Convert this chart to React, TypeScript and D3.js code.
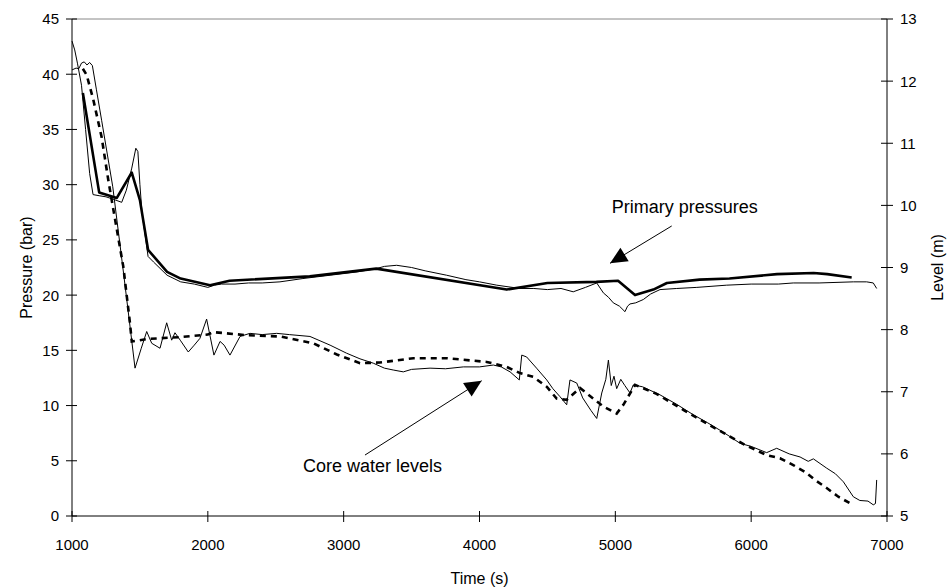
import React from "react";
import * as d3 from "d3";

// ---- Data ----
const xTicks = [1000, 2000, 3000, 4000, 5000, 6000, 7000];
const pressureTicks = [0, 5, 10, 15, 20, 25, 30, 35, 40, 45];
const levelTicks = [5, 6, 7, 8, 9, 10, 11, 12, 13];

// Calculated primary pressure (bar) – thick line
const pressureCalc: [number, number][] = [
  [1080, 38.3], [1200, 29.3], [1330, 28.8], [1440, 31.1], [1500, 28.6], [1560, 24.1],
  [1700, 22.1], [1800, 21.5], [2016, 20.9], [2160, 21.3], [2750, 21.7], [3240, 22.4],
  [4200, 20.5], [4500, 21.1], [4860, 21.2], [5020, 21.3], [5145, 20.0], [5280, 20.5],
  [5380, 21.1], [5620, 21.4], [5840, 21.5], [6190, 21.9], [6460, 22.0], [6560, 21.9],
  [6740, 21.6],
];

// Measured primary pressure (bar) – thin line
const pressureMeas: [number, number][] = [
  [1000, 43.0], [1020, 42.2], [1040, 41.0], [1070, 39.0], [1100, 35.0], [1130, 31.0],
  [1155, 29.1], [1200, 29.0], [1250, 28.9], [1300, 28.7], [1366, 28.4], [1400, 29.5],
  [1440, 31.5], [1470, 33.3], [1485, 33.0], [1500, 30.0], [1515, 27.5], [1560, 23.5],
  [1600, 23.0], [1700, 21.8], [1800, 21.2], [1900, 21.0], [2000, 20.7], [2050, 20.9],
  [2100, 21.0], [2200, 21.0], [2300, 21.1], [2400, 21.1], [2531, 21.2], [2700, 21.5],
  [2900, 21.8], [3100, 22.1], [3240, 22.4], [3300, 22.6], [3390, 22.7], [3500, 22.5],
  [3600, 22.2], [3758, 21.8], [3900, 21.4], [4000, 21.2], [4127, 20.9], [4298, 20.6],
  [4400, 20.6], [4500, 20.5], [4600, 20.6], [4690, 20.3], [4780, 20.7], [4863, 21.1],
  [4912, 20.2], [4950, 19.8], [4985, 19.3], [5030, 19.0], [5071, 18.5], [5090, 19.0],
  [5108, 19.2], [5150, 19.3], [5206, 19.6], [5260, 20.1], [5329, 20.5], [5452, 20.6],
  [5600, 20.7], [5820, 20.9], [6000, 21.0], [6200, 21.0], [6310, 21.1], [6500, 21.1],
  [6752, 21.2], [6850, 21.2], [6899, 21.1], [6924, 20.6],
];

// Calculated core water level (m) – thick dashed line
const levelCalc: [number, number][] = [
  [1080, 12.2], [1108, 12.1], [1157, 11.7], [1218, 11.1], [1267, 10.41], [1292, 10.09],
  [1378, 9.01], [1427, 8.1], [1440, 7.81], [1560, 7.85], [1800, 7.88], [2000, 7.92],
  [2040, 7.96], [2286, 7.91], [2531, 7.89], [2776, 7.78], [2950, 7.6], [3120, 7.46],
  [3267, 7.47], [3513, 7.54], [3758, 7.54], [4053, 7.48], [4200, 7.4], [4298, 7.3],
  [4396, 7.24], [4495, 7.08], [4568, 6.89], [4642, 6.87], [4740, 7.06], [4912, 6.76],
  [5010, 6.65], [5059, 6.79], [5145, 7.11], [5300, 6.97], [5500, 6.71], [5745, 6.4],
  [5950, 6.15], [6114, 5.98], [6212, 5.93], [6310, 5.82], [6396, 5.71], [6470, 5.58],
  [6556, 5.45], [6642, 5.31], [6740, 5.19],
];

// Measured core water level (m) – thin line
const levelMeas: [number, number][] = [
  [1000, 12.18], [1030, 12.21], [1050, 12.2], [1070, 12.29], [1090, 12.31], [1110, 12.26],
  [1130, 12.3], [1150, 12.25], [1180, 11.86], [1218, 11.37], [1300, 10.3], [1380, 8.9],
  [1430, 8.0], [1464, 7.38], [1510, 7.7], [1550, 7.97], [1587, 7.78], [1648, 7.7],
  [1697, 8.11], [1734, 7.83], [1758, 7.95], [1800, 7.82], [1856, 7.64], [1900, 7.75],
  [1942, 7.86], [1991, 8.17], [2045, 7.59], [2090, 7.81], [2120, 7.75], [2163, 7.59],
  [2237, 7.89], [2310, 7.94], [2400, 7.92], [2507, 7.94], [2600, 7.92], [2752, 7.89],
  [2900, 7.75], [3022, 7.62], [3120, 7.53], [3218, 7.46], [3300, 7.38], [3365, 7.35],
  [3439, 7.32], [3500, 7.36], [3636, 7.38], [3750, 7.37], [3881, 7.4], [4000, 7.4],
  [4102, 7.43], [4160, 7.4], [4225, 7.32], [4293, 7.19], [4311, 7.59], [4347, 7.56],
  [4420, 7.38], [4495, 7.19], [4540, 7.05], [4593, 6.92], [4642, 6.79], [4666, 7.19],
  [4716, 7.14], [4760, 6.9], [4820, 6.7], [4863, 6.57], [4900, 6.98], [4930, 7.2],
  [4949, 7.51], [4970, 7.1], [4990, 7.25], [5010, 7.05], [5040, 7.2], [5070, 7.1],
  [5108, 6.98], [5132, 7.11], [5200, 7.08], [5329, 6.95], [5450, 6.8], [5574, 6.63],
  [5680, 6.5], [5771, 6.38], [5850, 6.27], [5918, 6.17], [6000, 6.12], [6114, 6.02],
  [6188, 6.09], [6280, 6.0], [6360, 5.95], [6420, 5.88], [6458, 5.92], [6556, 5.77],
  [6620, 5.68], [6679, 5.55], [6752, 5.31], [6800, 5.25], [6860, 5.24], [6899, 5.18],
  [6915, 5.2], [6924, 5.58],
];

// Annotations (data coordinates on the pressure axis)
const annotations = [
  { label: "Primary pressures", text: [4974, 27.44], from: [5415, 26.26], tip: [4961, 22.88] },
  { label: "Core water levels", text: [2700, 3.98], from: [3157, 5.52], tip: [4016, 12.25] },
];

const FONT = "'Liberation Sans', Arial, Helvetica, sans-serif";

export default function App() {
  const W = 951, H = 588;
  const left = 72, right = 887, top = 19, bottom = 516;

  const x = d3.scaleLinear().domain([1000, 7000]).range([left, right]);
  const yP = d3.scaleLinear().domain([0, 45]).range([bottom, top]);
  const yL = d3.scaleLinear().domain([5, 13]).range([bottom, top]);

  const lineP = d3.line<[number, number]>().x((d) => x(d[0])).y((d) => yP(d[1]));
  const lineL = d3.line<[number, number]>().x((d) => x(d[0])).y((d) => yL(d[1]));

  const arrowHead = (fx: number, fy: number, tx: number, ty: number) => {
    const dx = tx - fx, dy = ty - fy;
    const len = Math.hypot(dx, dy);
    const ux = dx / len, uy = dy / len;
    const L = 17, hw = 8;
    const bx = tx - ux * L, by = ty - uy * L;
    return `M${tx},${ty}L${bx - uy * hw},${by + ux * hw}L${bx + uy * hw},${by - ux * hw}Z`;
  };

  return (
    <svg width={W} height={H} style={{ position: "absolute", left: 0, top: 0, background: "#fff" }}>
      <rect x={0} y={0} width={W} height={H} fill="#fff" />
      {/* top border */}
      <line x1={left} x2={right} y1={top} y2={top} stroke="#888" strokeWidth={1} />

      {/* data lines */}
      <path d={lineP(pressureMeas) || ""} fill="none" stroke="#000" strokeWidth={1} strokeLinejoin="round" />
      <path d={lineP(pressureCalc) || ""} fill="none" stroke="#000" strokeWidth={2.6} strokeLinejoin="round" />
      <path d={lineL(levelMeas) || ""} fill="none" stroke="#000" strokeWidth={1} strokeLinejoin="round" />
      <path d={lineL(levelCalc) || ""} fill="none" stroke="#000" strokeWidth={2.6} strokeDasharray="6,5" />

      {/* axes */}
      <line x1={left} x2={left} y1={top} y2={bottom} stroke="#000" strokeWidth={1} />
      <line x1={right} x2={right} y1={top} y2={bottom} stroke="#000" strokeWidth={1} />
      <line x1={left} x2={right} y1={bottom} y2={bottom} stroke="#000" strokeWidth={1} />

      {pressureTicks.map((t) => (
        <g key={"p" + t}>
          <line x1={left - 6} x2={left + 5} y1={yP(t)} y2={yP(t)} stroke="#000" />
          <text x={left - 13} y={yP(t)} dy="0.36em" textAnchor="end" fontFamily={FONT} fontSize={15}>{t}</text>
        </g>
      ))}
      {levelTicks.map((t) => (
        <g key={"l" + t}>
          <line x1={right - 6} x2={right + 6} y1={yL(t)} y2={yL(t)} stroke="#000" />
          <text x={right + 13} y={yL(t)} dy="0.36em" textAnchor="start" fontFamily={FONT} fontSize={15}>{t}</text>
        </g>
      ))}
      {xTicks.map((t) => (
        <g key={"x" + t}>
          <line x1={x(t)} x2={x(t)} y1={bottom - 5} y2={bottom + 6} stroke="#000" />
          <text x={x(t)} y={550} textAnchor="middle" fontFamily={FONT} fontSize={15}>{t}</text>
        </g>
      ))}

      {/* axis titles */}
      <text x={(left + right) / 2} y={584} textAnchor="middle" fontFamily={FONT} fontSize={16}>Time (s)</text>
      <text transform={`translate(32,${(top + bottom) / 2}) rotate(-90)`} textAnchor="middle" fontFamily={FONT} fontSize={16}>Pressure (bar)</text>
      <text transform={`translate(943,${(top + bottom) / 2}) rotate(-90)`} textAnchor="middle" fontFamily={FONT} fontSize={16}>Level (m)</text>

      {/* annotations */}
      {annotations.map((a) => {
        const fx = x(a.from[0]), fy = yP(a.from[1]);
        const tx = x(a.tip[0]), ty = yP(a.tip[1]);
        return (
          <g key={a.label}>
            <line x1={fx} y1={fy} x2={tx} y2={ty} stroke="#000" strokeWidth={1} />
            <path d={arrowHead(fx, fy, tx, ty)} fill="#000" />
            <text x={x(a.text[0])} y={yP(a.text[1])} fontFamily={FONT} fontSize={18}>{a.label}</text>
          </g>
        );
      })}
    </svg>
  );
}
